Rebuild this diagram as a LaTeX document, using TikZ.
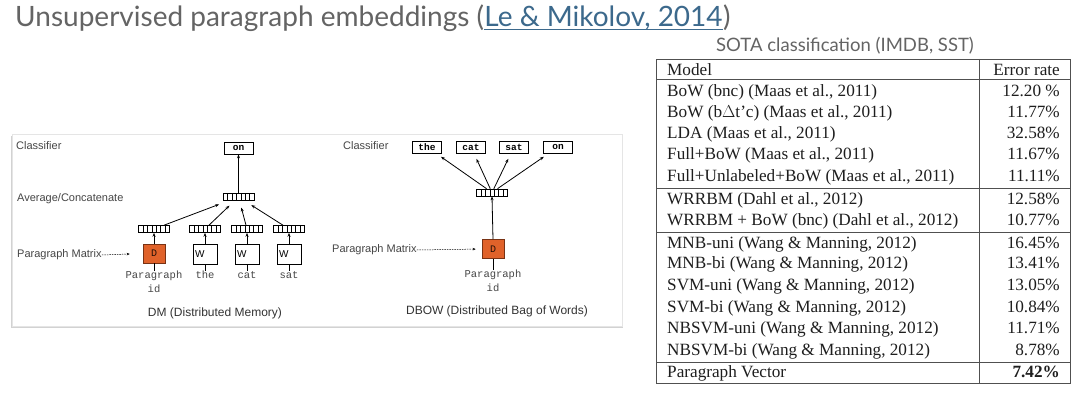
\documentclass[tikz,border=0pt]{standalone}
\usepackage{fontspec}
\setmainfont{Liberation Serif}
\setsansfont{Liberation Sans}
\setmonofont{Liberation Mono}
\newfontfamily\titlefont{Lato}
\usetikzlibrary{calc,arrows.meta}
\definecolor{titlegray}{RGB}{100,100,100}
\definecolor{linkcol}{RGB}{60,105,140}
\definecolor{lblgray}{RGB}{70,70,70}
\definecolor{dorange}{RGB}{224,98,42}
\definecolor{dborder}{RGB}{120,50,20}
\definecolor{tabline}{RGB}{80,80,80}
\definecolor{tabtext}{RGB}{30,30,30}
\begin{document}
\begin{tikzpicture}[x=1pt,y=-1pt,
  vec/.style={draw=black, line width=0.6pt, minimum width=31pt, minimum height=7pt, inner sep=0pt,
    path picture={\foreach \k in {1,...,6}{\draw[line width=0.4pt]
      ($(path picture bounding box.south west)!\k/7!(path picture bounding box.south east)$) --
      ($(path picture bounding box.north west)!\k/7!(path picture bounding box.north east)$);}}},
  wordbox/.style={draw=black, line width=0.7pt, minimum width=29pt, minimum height=12pt, inner sep=0pt,
    font=\ttfamily\bfseries\fontsize{9.5}{10}\selectfont},
  wmat/.style={draw=black, line width=0.6pt, minimum width=24pt, minimum height=20pt, inner sep=0pt,
    text width=20pt, align=left, font=\sffamily\fontsize{10}{10}\selectfont},
  dmat/.style={draw=dborder, fill=dorange, line width=0.6pt, minimum width=22pt, minimum height=19pt, inner sep=0pt,
    font=\ttfamily\fontsize{10}{10}\selectfont, text=black!70!dborder},
  lbl/.style={font=\sffamily\fontsize{11}{13}\selectfont, text=lblgray, inner sep=0pt},
  figcaption/.style={font=\sffamily\fontsize{12}{14}\selectfont, text=black!80, inner sep=0pt},
  wlbl/.style={font=\ttfamily\fontsize{10.5}{14}\selectfont, text=lblgray, inner sep=0pt, align=center},
  arr/.style={line width=0.8pt, -{Stealth[length=4pt,width=3pt]}},
  darr/.style={line width=0.5pt, dashed, dash pattern=on 1.5pt off 1pt, -{Stealth[length=3pt,width=2.5pt]}},
  tt/.style={font=\fontsize{17.2}{19}\selectfont, text=tabtext, inner sep=0pt},
  tline/.style={draw=tabline, line width=0.8pt},
  ttl/.style={inner sep=0pt, font=\titlefont\fontsize{28}{30}\selectfont, text=titlegray}
]
\useasboundingbox (0,0) rectangle (1080,401);
\fill[white] (0,0) rectangle (1080,401);

% title
\node[ttl, anchor=base west] (title) at (15,27) {Unsupervised paragraph embeddings (};
\node[ttl, anchor=base west, text=linkcol] (link) at (title.base east) {Le \& Mikolov, 2014};
\node[ttl, anchor=base west] (rpar) at (link.base east) {)};
\draw[linkcol, line width=1pt] ([yshift=-3pt]link.base west) -- ([yshift=-3pt]link.base east);

% panel
\fill[gray!35] (11,136) rectangle (623,328);
\fill[white] (12,134) rectangle (622,326);
\draw[gray!20, line width=0.4pt] (12,134) rectangle (622,326);

% ---------- DM ----------
\node[lbl, anchor=west] (cl1) at (16,146) {Classifier};
\node[lbl, anchor=west] (ac1) at (17,199) {Average/Concatenate};
\node[lbl, anchor=west] (pm1) at (17,255) {Paragraph Matrix};
\node[wordbox] (on1) at (238.5,148) {on};
\node[vec] (avg) at (238.5,197) {};
\node[vec] (v1) at (154,229) {};
\node[vec] (v2) at (205,229) {};
\node[vec] (v3) at (247,229) {};
\node[vec] (v4) at (289,229) {};
\node[dmat] (d1) at (154,253.5) {D};
\node[wmat] (w1) at (205,254) {W};
\node[wmat] (w2) at (247,254) {W};
\node[wmat] (w3) at (289,254) {W};
\node[wlbl, anchor=north] (p1) at (154,271) {Paragraph\\id};
\node[wlbl, anchor=north] (t1) at (205,271) {the};
\node[wlbl, anchor=north] (t2) at (247,271) {cat};
\node[wlbl, anchor=north] (t3) at (289,271) {sat};
\node[figcaption, anchor=center] (dm) at (215,313) {DM (Distributed Memory)};

\draw[arr] (avg.north) -- (on1.south);
\draw[arr, shorten >=10pt] (v1) -- (avg);
\draw[arr, shorten >=7pt] (v2) -- (avg);
\draw[arr, shorten >=7pt] (v3) -- (avg);
\draw[arr, shorten >=8pt] (v4) -- (avg);
\draw[arr] (d1.north) -- (v1.south);
\draw[arr] (w1.north) -- (v2.south);
\draw[arr] (w2.north) -- (v3.south);
\draw[arr] (w3.north) -- (v4.south);
\draw[line width=0.8pt] (d1.south) -- (p1.north);
\draw[line width=0.8pt] (w1.south) -- (t1.north);
\draw[line width=0.8pt] (w2.south) -- (t2.north);
\draw[line width=0.8pt] (w3.south) -- (t3.north);
\draw[darr, shorten >=13pt] (pm1.east) -- (d1.west);

% ---------- DBOW ----------
\node[lbl, anchor=west] (cl2) at (343,146) {Classifier};
\node[lbl, anchor=west] (pm2) at (332,250) {Paragraph Matrix};
\node[wordbox] (b1) at (427,147) {the};
\node[wordbox] (b2) at (471,147) {cat};
\node[wordbox] (b3) at (514,147) {sat};
\node[wordbox] (b4) at (558,147) {on};
\node[vec] (bv) at (492,192.5) {};
\node[dmat] (d2) at (493,249) {D};
\node[wlbl, anchor=north] (p2) at (493,270) {Paragraph\\id};
\node[figcaption, anchor=center] (dbow) at (497,311) {DBOW (Distributed Bag of Words)};

\draw[arr, shorten >=6pt] (bv) -- (b1);
\draw[arr, shorten >=6pt] (bv) -- (b2);
\draw[arr, shorten >=6pt] (bv) -- (b3);
\draw[arr, shorten >=6pt] (bv) -- (b4);
\draw[arr] (d2.north) -- (bv.south);
\draw[line width=0.8pt] (d2.south) -- (p2.north);
\draw[darr, shorten >=6pt] (pm2.east) -- (d2.west);

% ---------- table ----------
\node[anchor=center, inner sep=0pt, font=\titlefont\fontsize{18.5}{20}\selectfont, text=titlegray] (capt) at (845,45.5)
  {SOTA classification (IMDB, SST)};
\draw[tline] (656,59) rectangle (1070,383);
\draw[tline] (979,59) -- (979,383);
\draw[tline] (656,79) -- (1070,79);
\draw[tline] (656,188) -- (1070,188);
\draw[tline] (656,232) -- (1070,232);
\draw[tline] (656,362) -- (1070,362);

\node[tt, anchor=base west] (h1) at (667,75.5) {Model};
\node[tt, anchor=base east] (h2) at (1060,75.5) {Error rate};

\foreach \txt/\val/\yy [count=\i] in {
  {BoW (bnc) (Maas et al., 2011)}/{12.20 \%}/97,
  {BoW (b$\Delta$t'c) (Maas et al., 2011)}/{11.77\%}/117.5,
  {LDA (Maas et al., 2011)}/{32.58\%}/138.5,
  {Full+BoW (Maas et al., 2011)}/{11.67\%}/159.5,
  {Full+Unlabeled+BoW (Maas et al., 2011)}/{11.11\%}/181.5,
  {WRRBM (Dahl et al., 2012)}/{12.58\%}/205,
  {WRRBM + BoW (bnc) (Dahl et al., 2012)}/{10.77\%}/225.5,
  {MNB-uni (Wang \& Manning, 2012)}/{16.45\%}/248.5,
  {MNB-bi (Wang \& Manning, 2012)}/{13.41\%}/269,
  {SVM-uni (Wang \& Manning, 2012)}/{13.05\%}/290.5,
  {SVM-bi (Wang \& Manning, 2012)}/{10.84\%}/312,
  {NBSVM-uni (Wang \& Manning, 2012)}/{11.71\%}/333.5,
  {NBSVM-bi (Wang \& Manning, 2012)}/{8.78\%}/355}
{
  \node[tt, anchor=base west] (r\i) at (667,\yy) {\txt};
  \node[tt, anchor=base east] (e\i) at (1060,\yy) {\val};
}
\node[tt, anchor=base west] (pv) at (667,377.5) {Paragraph Vector};
\node[tt, anchor=base east] (pve) at (1060,377.5) {\textbf{7.42\%}};
\end{tikzpicture}
\end{document}
